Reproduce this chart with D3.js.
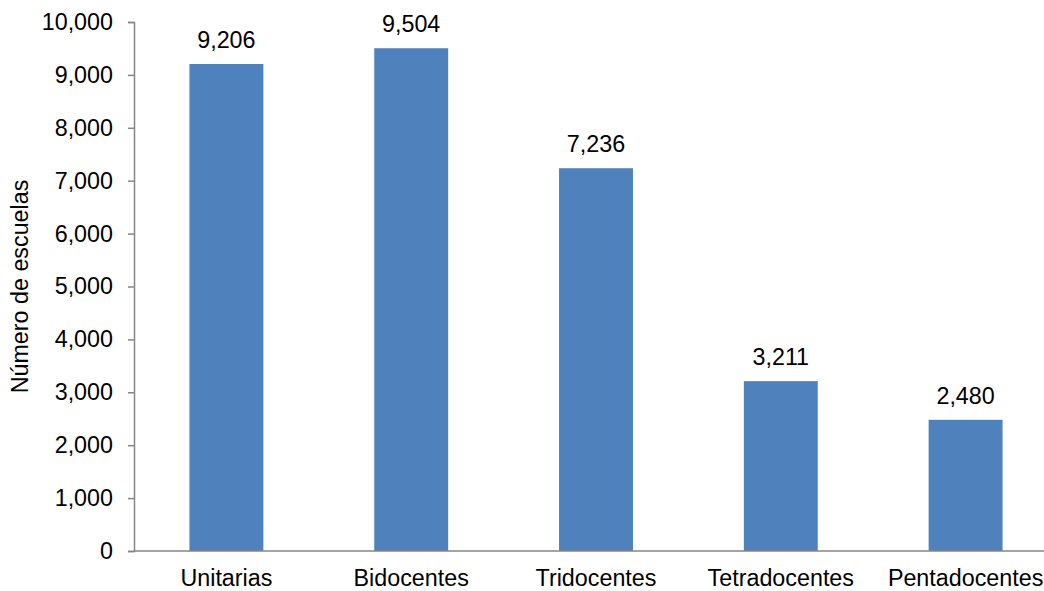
<!DOCTYPE html>
<html>
<head>
<meta charset="utf-8">
<script src="https://cdn.jsdelivr.net/npm/d3@7"></script>
<style>
  body { margin: 0; background: #fff; }
  text { font-family: "Liberation Sans", Arial, sans-serif; fill: #000; }
</style>
</head>
<body>
<div id="chart"></div>
<script>
// datos
const categorias = ['Unitarias', 'Bidocentes', 'Tridocentes', 'Tetradocentes', 'Pentadocentes'];
const escuelas = [9206, 9504, 7236, 3211, 2480];
const ticksY = [0, 1000, 2000, 3000, 4000, 5000, 6000, 7000, 8000, 9000, 10000];
const tituloY = 'Número de escuelas';

const width = 1044;
const height = 591;
const margin = { top: 22, right: -14, bottom: 40, left: 134 };
const fontSize = 23.3;
const fmt = d3.format(',');

const svg = d3.select('#chart')
    .append('svg')
    .attr('width', width)
    .attr('height', height);

const xScale = d3.scaleBand()
    .domain(categorias)
    .range([margin.left, width - margin.right])
    .paddingInner(0.6)
    .paddingOuter(0.3);

const yScale = d3.scaleLinear()
    .domain([0, 10000])
    .range([height - margin.bottom, margin.top]);

// barras
svg.selectAll('rect.bar')
    .data(escuelas)
    .enter()
    .append('rect')
    .attr('class', 'bar')
    .attr('x', (d, i) => xScale(categorias[i]))
    .attr('y', d => yScale(d))
    .attr('width', xScale.bandwidth())
    .attr('height', d => yScale(0) - yScale(d))
    .attr('fill', '#4F81BD');

// eje Y
const yAxis = svg.append('g')
    .attr('transform', `translate(${margin.left},0)`)
    .call(d3.axisLeft(yScale).tickValues(ticksY).tickFormat(fmt).tickSize(6).tickPadding(15));
yAxis.select('.domain').attr('stroke', '#868686').attr('stroke-width', 1.5);
yAxis.selectAll('.tick line').attr('stroke', '#868686').attr('stroke-width', 1.5);
yAxis.selectAll('.tick text')
    .attr('font-size', fontSize)
    .attr('font-family', '"Liberation Sans", Arial, sans-serif')
    .attr('fill', '#000');

// eje X
svg.append('line')
    .attr('x1', margin.left)
    .attr('x2', width)
    .attr('y1', yScale(0))
    .attr('y2', yScale(0))
    .attr('stroke', '#868686')
    .attr('stroke-width', 1.5);

svg.selectAll('text.cat')
    .data(categorias)
    .enter()
    .append('text')
    .attr('class', 'cat')
    .attr('x', d => xScale(d) + xScale.bandwidth() / 2)
    .attr('y', yScale(0) + 35)
    .attr('text-anchor', 'middle')
    .attr('font-size', fontSize)
    .text(d => d);

// etiquetas de valores
svg.selectAll('text.valor')
    .data(escuelas)
    .enter()
    .append('text')
    .attr('class', 'valor')
    .attr('x', (d, i) => xScale(categorias[i]) + xScale.bandwidth() / 2)
    .attr('y', d => yScale(d) - 16)
    .attr('text-anchor', 'middle')
    .attr('font-size', fontSize)
    .text(d => fmt(d));

// título del eje Y
svg.append('text')
    .attr('transform', `translate(28,${(yScale(0) + yScale(10000)) / 2}) rotate(-90)`)
    .attr('text-anchor', 'middle')
    .attr('font-size', fontSize)
    .text(tituloY);
</script>
</body>
</html>
